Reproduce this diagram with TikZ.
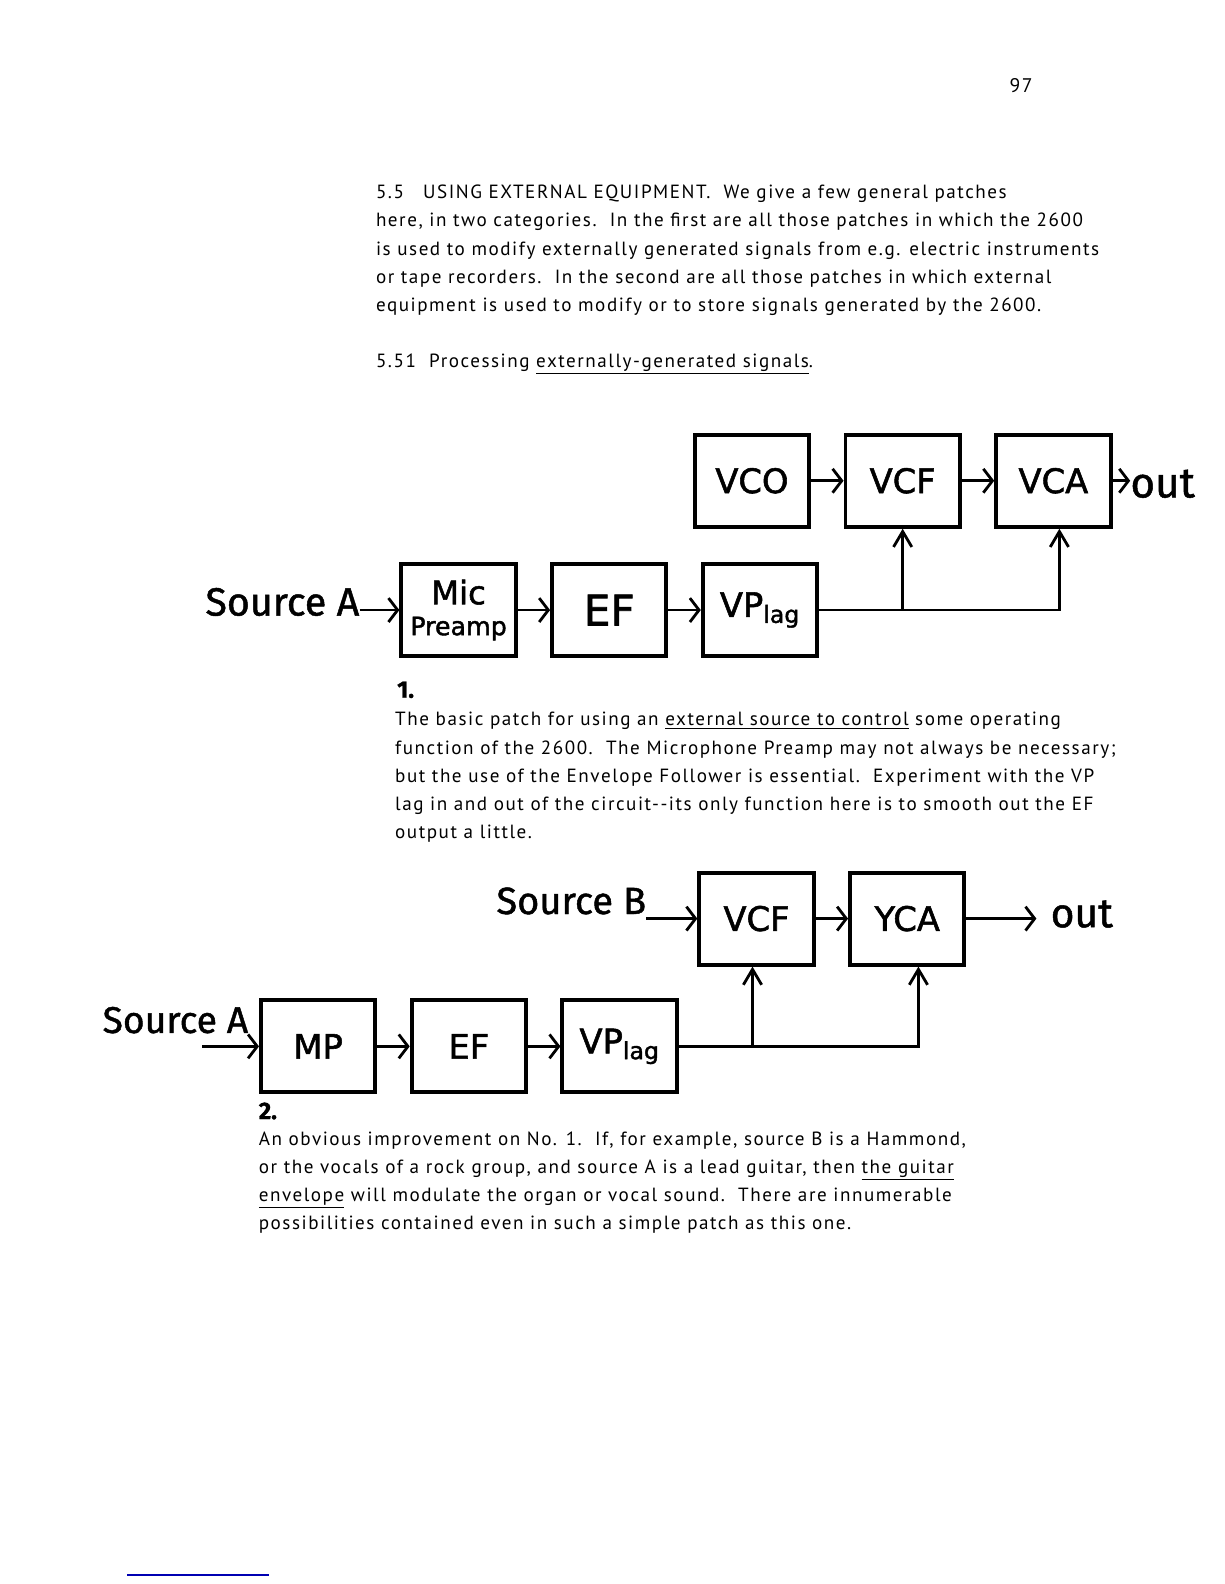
\documentclass[tikz,border=0pt]{standalone}
\usepackage{fontspec}
\setmainfont{PT Sans}[LetterSpace=8]
\newfontfamily\handfont{Fira Sans}[FakeBold=1.2]
\newfontfamily\boxfont{DejaVu Sans}[FakeBold=1.6]
\usetikzlibrary{arrows.meta, positioning}

\begin{document}
\begin{tikzpicture}[
    x=0.02525cm, y=-0.02525cm,
    node distance=0.81cm,
    box/.style={rectangle, draw, line width=2.8pt, minimum width=2.86cm, minimum height=2.3cm, align=center, inner sep=1pt, font=\boxfont\fontsize{24}{22}\selectfont},
    arrow/.style={-{Straight Barb[length=6.5pt, width=17pt, line width=2pt]}, line width=2pt},
    ctrl/.style={-{Straight Barb[length=11pt, width=13pt, line width=2pt]}, line width=2pt},
    label/.style={inner sep=0pt, font=\handfont\fontsize{28}{30}\selectfont},
    num/.style={inner sep=0pt, font=\handfont\bfseries\fontsize{17}{18}\selectfont},
    para/.style={align=left, anchor=north west, inner sep=0pt, font=\fontsize{13.6}{20.1}\selectfont}
]
\useasboundingbox (0,0) rectangle (1212,1568.3);

% page text
\node[inner sep=0pt, font=\fontsize{14}{16}\selectfont] (page) at (1011,85) {97};
\node[para] (intro) at (372,183) {5.5\quad USING EXTERNAL EQUIPMENT.\ \ We give a few general patches\\
here, in two categories.\ \ In the first are all those patches in which the 2600\\
is used to modify externally generated signals from e.g. electric instruments\\
or tape recorders.\ \ In the second are all those patches in which external\\
equipment is used to modify or to store signals generated by the 2600.};
\node[para] (sect) at (372,350) {5.51\ \ Processing \underline{externally-generated signals}.};

% patch 1
\node[box] (vco) at (744.5,476) {VCO};
\node[box, right=of vco] (vcf) {VCF};
\node[box, right=of vcf] (vca) {VCA};
\node[label, anchor=west, font=\handfont\fontsize{30}{30}\selectfont] (outA) at (1119,479) {out};
\node[box] (mic) at (454,604) {{\fontsize{23}{26}\selectfont Mic}\\{\fontsize{18}{20}\selectfont Preamp}};
\node[box, right=of mic, font=\boxfont\fontsize{30}{30}\selectfont] (ef) {EF};
\node[box, right=of ef] (vp) {VP\textsubscript{lag}};
\node[label, anchor=east] (srcA) at (356,596) {Source A};
\node[num, anchor=west] (one) at (393,683) {1.};

\draw[arrow] (vco) -- (vcf);
\draw[arrow] (vcf) -- (vca);
\draw[arrow] (vca.east) -- (vca.east -| outA.west);
\draw[arrow] (srcA.east |- mic.west) -- (mic.west);
\draw[arrow] (mic) -- (ef);
\draw[arrow] (ef) -- (vp);
\draw[ctrl] (vp.east) -| ([xshift=0.15cm]vca.south);
\draw[ctrl] (vcf.south |- vp.east) -- (vcf.south);

\node[para] (text1) at (391,705) {The basic patch for using an \underline{external source to control} some operating\\
function of the 2600.\ \ The Microphone Preamp may not always be necessary;\\
but the use of the Envelope Follower is essential.\ \ Experiment with the VP\\
lag in and out of the circuit-{}-its only function here is to smooth out the EF\\
output a little.};

% patch 2
\node[box] (vcfB) at (749,909.5) {VCF};
\node[box, right=of vcfB] (yca) {YCA};
\node[label, anchor=west, font=\handfont\fontsize{29}{30}\selectfont] (outB) at (1040,905) {out};
\node[label, anchor=east, font=\handfont\fontsize{27}{30}\selectfont] (srcB) at (640,892) {Source B};
\node[box] (mp) at (315,1036) {MP};
\node[box, right=of mp] (efB) {EF};
\node[box, right=of efB] (vpB) {VP\textsubscript{lag}};
\node[label, anchor=east, font=\handfont\fontsize{26.5}{30}\selectfont] (srcAB) at (246,1010) {Source A};
\coordinate (tailB) at (200,1036);
\node[num, anchor=west] (two) at (256,1100) {2.};

\draw[arrow] (srcB.east |- vcfB.west) -- (vcfB.west);
\draw[arrow] (vcfB) -- (yca);
\draw[arrow] (yca.east) -- ([xshift=-0.35cm]yca.east -| outB.west);
\draw[arrow] (tailB) -- (mp.west);
\draw[arrow] (mp) -- (efB);
\draw[arrow] (efB) -- (vpB);
\draw[ctrl] (vpB.east) -| ([xshift=0.28cm]yca.south);
\draw[ctrl] ([xshift=-0.1cm]vcfB.south |- vpB.east) -- ([xshift=-0.1cm]vcfB.south);

\node[para] (text2) at (256,1120) {An obvious improvement on No. 1.\ \ If, for example, source B is a Hammond,\\
or the vocals of a rock group, and source A is a lead guitar, then \underline{the guitar}\\
\underline{envelope} will modulate the organ or vocal sound.\ \ There are innumerable\\
possibilities contained even in such a simple patch as this one.};

% rule at foot
\draw[blue!70!black, line width=1.5pt] (126,1559) -- (266,1559);
\end{tikzpicture}
\end{document}
